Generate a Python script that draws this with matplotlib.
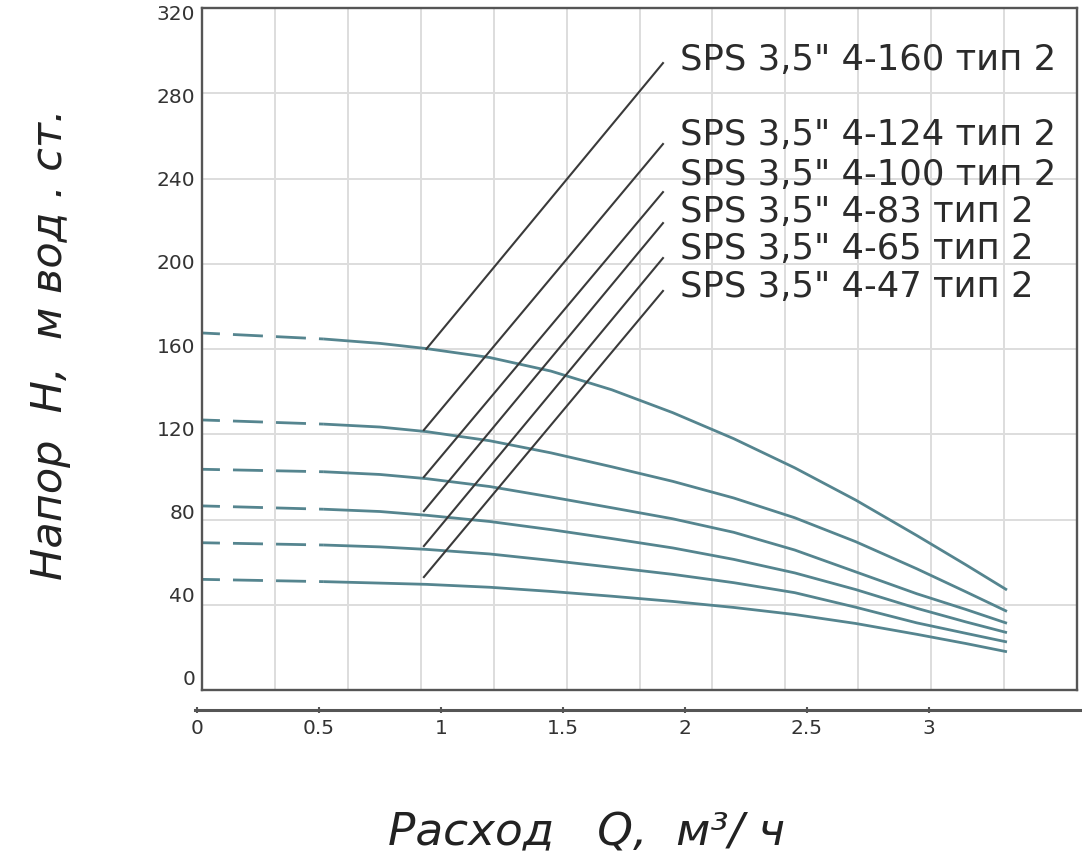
import numpy as np
import matplotlib.pyplot as plt

# flow Q, m3/h
flow = np.array([0.02, 0.52, 0.75, 0.94, 1.2, 1.45, 1.7, 1.95, 2.2, 2.45, 2.7, 2.95, 3.15, 3.32])

# head H, m for each pump
head_160 = [165.8, 162.9, 160.8, 158.3, 154.0, 147.5, 138.5, 127.5, 115.0, 101.0, 85.5, 68.5, 54.5, 42.3]
head_124 = [124.0, 122.0, 120.6, 118.4, 114.0, 108.2, 101.5, 94.5, 86.5, 77.0, 65.5, 52.5, 41.5, 32.0]
head_100 = [100.3, 99.1, 97.8, 95.8, 92.0, 87.0, 81.8, 76.5, 70.0, 61.5, 51.0, 40.5, 33.0, 26.3]
head_83 = [82.7, 81.1, 80.0, 78.2, 75.2, 71.3, 67.0, 62.5, 57.0, 50.5, 42.5, 33.5, 27.0, 21.8]
head_65 = [65.0, 63.9, 63.0, 61.8, 59.6, 56.5, 53.2, 49.8, 45.8, 41.0, 34.0, 26.5, 21.5, 17.3]
head_47 = [47.4, 46.3, 45.6, 45.0, 43.6, 41.6, 39.3, 36.8, 33.9, 30.5, 26.2, 21.0, 16.6, 12.6]
heads = [head_160, head_124, head_100, head_83, head_65, head_47]

names = ['SPS 3,5" 4-160 тип 2', 'SPS 3,5" 4-124 тип 2', 'SPS 3,5" 4-100 тип 2',
         'SPS 3,5" 4-83 тип 2', 'SPS 3,5" 4-65 тип 2', 'SPS 3,5" 4-47 тип 2']

# leader lines from the curves to the names
lead_q0 = [0.94, 0.93, 0.93, 0.93, 0.93, 0.93]
lead_h0 = [158.1, 119.2, 96.6, 80.2, 63.4, 48.5]
lead_q1 = [1.91, 1.91, 1.91, 1.91, 1.91, 1.91]
lead_h1 = [295.5, 256.6, 233.5, 218.6, 201.8, 186.0]
name_q = 1.98
name_h = [292.2, 256.2, 237.0, 219.2, 201.4, 183.1]

yticks = [0, 40, 80, 120, 160, 200, 240, 280, 320]
xticks = [0, 0.5, 1, 1.5, 2, 2.5, 3]
xticklabels = ['0', '0.5', '1', '1.5', '2', '2.5', '3']

W, H = 1082, 860
curve_col = '#55858f'
dark = '#333333'

fig = plt.figure(figsize=(W / 100, H / 100), dpi=100)
ax = fig.add_axes([202 / W, 170 / H, 875 / W, 682 / H])
ax.set_xlim(0.0205, 3.607)
ax.set_ylim(-5.77, 321.96)

# grid does not sit on the labels in the original, it splits the frame evenly
xlo, xhi = ax.get_xlim()
ylo, yhi = ax.get_ylim()
ax.set_xticks([])
ax.set_xticks(np.linspace(xlo, xhi, 13)[1:-1], minor=True)
ax.set_yticks(yticks)
ax.set_yticks(np.linspace(ylo, yhi, 9)[1:-1], minor=True)
ax.tick_params(which='both', length=0)
ax.tick_params(axis='y', which='major', pad=5, labelsize=14.5, labelcolor=dark)
ax.grid(which='minor', color='#dddddd', lw=1.4)
ax.grid(which='major', visible=False)
ax.set_axisbelow(True)
for s in ax.spines.values():
    s.set_color('#555555')
    s.set_linewidth(1.7)

for h in heads:
    ax.plot(flow[:2], h[:2], color=curve_col, lw=2.0, ls=(4.3, (10.8, 4.7)))
    ax.plot(flow[1:], h[1:], color=curve_col, lw=2.0, solid_capstyle='butt', solid_joinstyle='round')

for i in range(len(names)):
    ax.plot([lead_q0[i], lead_q1[i]], [lead_h0[i], lead_h1[i]], color='#3a3a3a', lw=1.5)
    ax.text(name_q, name_h[i], names[i], fontsize=25.5, ha='left', va='baseline', color='#2b2b2b')

# separate flow scale under the frame
axb = fig.add_axes([195 / W, 150 / H, 885 / W, 0.001])
axb.set_xlim(-0.0082, 3.619)
axb.patch.set_visible(False)
axb.set_yticks([])
for side in ['top', 'left', 'right']:
    axb.spines[side].set_visible(False)
axb.spines['bottom'].set_color('#555555')
axb.spines['bottom'].set_linewidth(2.2)
axb.set_xticks(xticks)
axb.set_xticklabels(xticklabels)
axb.tick_params(axis='x', direction='inout', length=5, width=1.5, color='#555555',
                pad=4, labelsize=14.5, labelcolor=dark)

fig.text(50 / W, 1 - 344 / H, 'Напор  H,  м вод . ст.', rotation=90, ha='center', va='center',
         fontsize=31, style='italic', color='#222222')
fig.text(587 / W, 1 - 845 / H, 'Расход   Q,  м³/ ч', ha='center', va='baseline',
         fontsize=32.7, style='italic', color='#222222')

fig.savefig('out.png', dpi=100)
